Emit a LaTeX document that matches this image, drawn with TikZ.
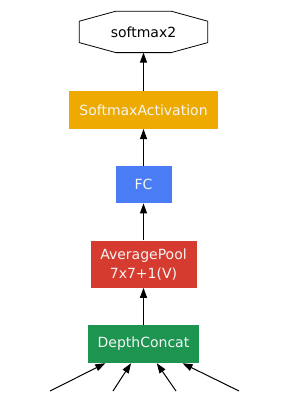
\documentclass[tikz,border=0pt]{standalone}
\usepackage{fontspec}
\setmainfont{DejaVu Sans}
\usetikzlibrary{positioning, arrows.meta, calc}
\definecolor{nnConcat}{RGB}{29,149,81}
\definecolor{nnPool}{RGB}{213,59,47}
\definecolor{nnFC}{RGB}{74,125,245}
\definecolor{nnAct}{RGB}{237,170,0}
\definecolor{nnText}{RGB}{245,245,245}
\tikzset{
    nnBoxBase/.style={
        rectangle,
        draw=none,
        inner sep=0pt,
        minimum height=38pt,
        font=\fontsize{14}{19}\selectfont,
        text=nnText,
        align=center
    },
    % Layer Variants
    concat/.style={nnBoxBase, fill=nnConcat, minimum width=111pt},
    pool/.style={nnBoxBase, fill=nnPool, minimum width=106pt, minimum height=47pt},
    fc/.style={nnBoxBase, fill=nnFC, minimum width=56pt, minimum height=37pt},
    act/.style={nnBoxBase, fill=nnAct, minimum width=149pt},
    outBox/.style={nnBoxBase, text=black, minimum width=128pt, minimum height=41pt},
    % Arrows
    nnArrowBase/.style={-{Triangle[length=10pt, width=7pt]}, line width=1pt, draw=black}
}
\begin{document}
\begin{tikzpicture}[x=1pt, y=1pt, node distance=37pt]
    \useasboundingbox (0,0) rectangle (290,-407);
    \node[concat] (concat) at (143.5,-344) {DepthConcat};
    \node[pool, above=of concat] (pool) {AveragePool\\7x7+1(V)};
    \node[fc, above=of pool] (fc) {FC};
    \node[act, above=of fc] (act) {SoftmaxActivation};
    \node[outBox, above=38pt of act] (out) {softmax2};
    \draw[line width=0.8pt] ($(out.north west)+(36.5,0)$) -- ($(out.north east)+(-36.5,0)$)
        -- ($(out.north east)+(0,-10)$) -- ($(out.south east)+(0,10)$)
        -- ($(out.south east)+(-36.5,0)$) -- ($(out.south west)+(36.5,0)$)
        -- ($(out.south west)+(0,10)$) -- ($(out.north west)+(0,-10)$) -- cycle;

    \foreach \name/\x in {inA/50, inB/113, inC/176, inD/239}
        \coordinate (\name) at (\x,-391);
    \foreach \name in {inA, inB, inC, inD}
        \draw[nnArrowBase] (\name) -- (concat);

    \draw[nnArrowBase] (concat) -- (pool);
    \draw[nnArrowBase] (pool) -- (fc);
    \draw[nnArrowBase] (fc) -- (act);
    \draw[nnArrowBase] (act) -- (out);
\end{tikzpicture}
\end{document}
